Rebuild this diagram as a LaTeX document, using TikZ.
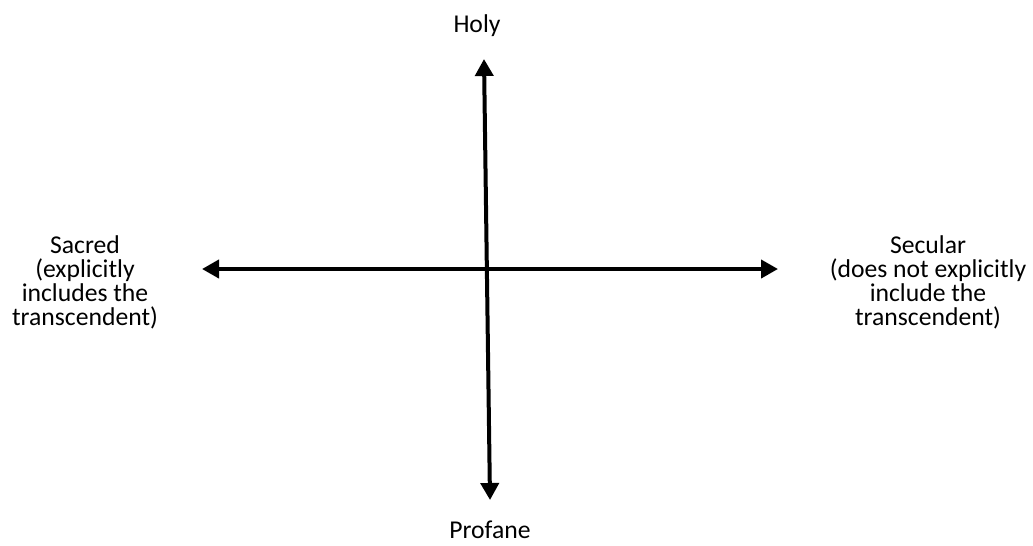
\documentclass[tikz,border=0pt]{standalone}
\usepackage{fontspec}
\setmainfont{Carlito}
\usepackage{tikz}
\usetikzlibrary{arrows.meta}

\begin{document}
\begin{tikzpicture}[x=0.02cm,y=-0.02cm,
    axis/.style={line width=0.08cm,{Triangle[length=0.34cm,width=0.36cm]}-{Triangle[length=0.34cm,width=0.36cm]}},
    pole/.style={font=\fontsize{14.6}{13.7}\selectfont,align=center}]
  \useasboundingbox (0,0) rectangle (1033,545);
  % axis ends
  \coordinate (top) at (484,59);
  \coordinate (bot) at (490,500);
  \coordinate (lft) at (202,269);
  \coordinate (rgt) at (778,269);
  \draw[axis] (top) -- (bot);
  \draw[axis] (lft) -- (rgt);
  % pole labels
  \node[pole] (holy) at (477,26) {Holy};
  \node[pole] (profane) at (490,530) {Profane};
  \node[pole] (sacred) at (85,282) {Sacred\\(explicitly\\includes the\\transcendent)};
  \node[pole] (secular) at (928,282) {Secular\\(does not explicitly\\include the\\transcendent)};
\end{tikzpicture}
\end{document}
